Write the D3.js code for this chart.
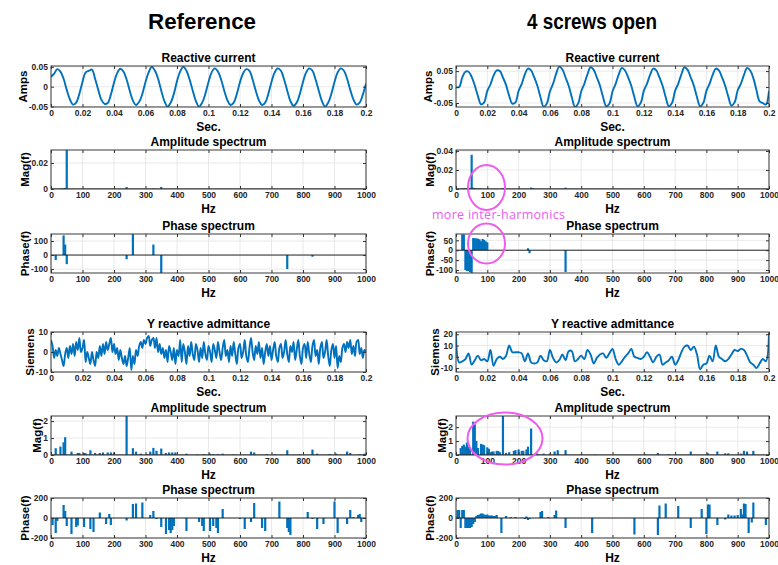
<!DOCTYPE html>
<html>
<head>
<meta charset="utf-8">
<script src="https://cdn.jsdelivr.net/npm/d3@7"></script>
<style>
body { margin: 0; background: #fff; }
svg text { font-family: "Liberation Sans", Arial, sans-serif; }
</style>
</head>
<body>
<svg id="fig" width="778" height="565"></svg>
<script>
// column headers
const headers = ["Reference", "4 screws open"];

const timeTicks = [0, 0.02, 0.04, 0.06, 0.08, 0.1, 0.12, 0.14, 0.16, 0.18, 0.2];
const hzTicks = [0, 100, 200, 300, 400, 500, 600, 700, 800, 900, 1000];

// reactive current, one sample every 2 ms
const refCurrent = [
  0.025, 0.033, 0.044, 0.038, 0.020, -0.008, -0.032, -0.045, -0.040, -0.018,
  0.012, 0.036, 0.040, 0.043, 0.020, -0.008, -0.033, -0.043, -0.041, -0.020,
  0.010, 0.034, 0.045, 0.038, 0.018, -0.010, -0.035, -0.046, -0.038, -0.018,
  0.012, 0.036, 0.050, 0.040, 0.020, -0.010, -0.036, -0.050, -0.040, -0.018,
  0.014, 0.038, 0.050, 0.040, 0.018, -0.010, -0.036, -0.050, -0.040, -0.018,
  0.012, 0.036, 0.046, 0.038, 0.018, -0.010, -0.034, -0.046, -0.040, -0.018,
  0.012, 0.034, 0.044, 0.040, 0.018, -0.010, -0.034, -0.046, -0.040, -0.018,
  0.012, 0.036, 0.046, 0.040, 0.018, -0.010, -0.036, -0.048, -0.040, -0.018,
  0.012, 0.036, 0.046, 0.040, 0.018, -0.010, -0.036, -0.050, -0.040, -0.018,
  0.012, 0.036, 0.046, 0.040, 0.020, -0.008, -0.032, -0.045, -0.040, -0.020,
  0.008
];
const openCurrent = [
  0.000, 0.000, 0.030, 0.048, 0.048, 0.032, 0.005, -0.028, -0.054, -0.048,
  -0.012, 0.008, 0.036, 0.052, 0.050, 0.030, 0.006, -0.028, -0.052, -0.048,
  -0.012, 0.010, 0.040, 0.058, 0.052, 0.030, 0.004, -0.032, -0.062, -0.052,
  -0.014, 0.010, 0.042, 0.064, 0.055, 0.030, 0.004, -0.032, -0.062, -0.052,
  -0.014, 0.010, 0.040, 0.062, 0.054, 0.030, 0.004, -0.032, -0.060, -0.052,
  -0.014, 0.010, 0.040, 0.060, 0.052, 0.030, 0.004, -0.032, -0.060, -0.050,
  -0.012, 0.010, 0.038, 0.058, 0.052, 0.030, 0.004, -0.032, -0.060, -0.050,
  -0.012, 0.010, 0.040, 0.062, 0.054, 0.030, 0.004, -0.032, -0.060, -0.050,
  -0.012, 0.010, 0.038, 0.058, 0.052, 0.030, 0.004, -0.030, -0.058, -0.048,
  -0.010, 0.010, 0.038, 0.060, 0.052, 0.028, -0.010, -0.045, -0.050, -0.055,
  -0.012
];

// Y reactive admittance: reference every 1 ms, screws open every 2 ms
const refAdmittance = [
  6, 3, -3, 1, -2, 2, -1, -4, -7, -1,
  2, -3, 3, -1, 4, -2, 5, 1, 7, 0,
  2, 6, -5, 0, -3, -6, 0, -4, -7, 0,
  -3, 3, -2, 4, -1, 5, 1, 4, 7, 0,
  4, -1, 2, -4, 1, -3, -6, -2, -7, -3,
  2, -9, -2, -6, 1, -2, 3, 5, 2, 6,
  4, 7, 8, 3, 6, 7, 2, 7, 0, 4,
  -1, 2, -3, 1, -5, 3, 0, -4, 2, -6,
  1, -2, 6, -5, 4, 0, -6, 3, -2, 5,
  -1, -4, 4, 1, -5, 2, -3, 5, -1, -4,
  3, 0, -5, 4, 1, -3, 5, 0, -4, 2,
  6, -2, 1, -5, 3, -2, 5, -1, -6, 2,
  4, -3, 0, 6, -2, -5, 2, 7, 0, -4,
  3, -1, 5, -3, 2, -6, 0, 4, -2, 3,
  -4, 1, 5, -2, -5, 2, 4, -3, 0, 6,
  -1, -5, 3, 0, 5, -4, 1, 6, -2, -6,
  2, 4, -3, 5, -1, -5, 3, 6, -2, 1,
  -6, 2, 5, -3, 0, 6, -2, -7, 1, 4,
  -3, 3, -8, -2, -5, 2, 4, 0, 5, 2,
  6, -1, 3, -2, 5, 6, -1, 2, -3, 1,
  0
];
const openAdmittance = [
  21, -5, -4, -2, 3, -7, -3, 1, -3, -2,
  -4, 6, -8, -2, 0, -2, 1, 10, 4, 4,
  4, 3, -4, 3, -5, -6, -5, 1, -3, -4,
  6, -1, -5, -3, 2, -3, 5, 5, -4, -2,
  1, -2, 6, 2, -6, -1, 2, 3, -1, 3,
  7, -2, -7, -4, 0, 3, 7, 0, -1, -2,
  0, 4, 0, -5, 0, 2, -7, -5, -3, 0,
  -7, -3, 4, 9, 10, 6, 9, 2, -11, -7,
  -6, 1, -4, 10, 0, -2, -4, -2, 2, 6,
  5, 7, 6, 1, -5, -7, -10, -6, -2, -4,
  21
];

// spectra as [Hz, value]
const refAmp1 = [[30, 0.0004], [40, 0.0005], [45, 0.0008], [50, 0.045], [240, 0.0015], [325, 0.0004], [350, 0.0016]];
const openAmp1 = [[20, 0.0005], [25, 0.0005], [30, 0.0006], [35, 0.0007], [40, 0.0008], [45, 0.001], [50, 0.036],
  [55, 0.0015], [60, 0.0008], [65, 0.0006], [75, 0.0006], [80, 0.0004], [100, 0.0005], [150, 0.001],
  [240, 0.0015], [245, 0.001], [350, 0.0015]];

const refPhase1 = [[15, -35], [40, 140], [45, 75], [50, -65], [240, -30], [260, 150], [325, 75], [350, -128], [750, -100], [830, -12]];
const openPhase1 = [[20, 80], [25, 80], [30, -100], [35, -105], [40, -105], [45, -110], [50, -115],
  [55, 62], [60, 60], [65, 60], [70, 58], [75, 55], [80, 45], [85, 57], [90, 52], [95, 45], [100, 40],
  [230, 10], [235, -15], [350, -110]];

const refAmp2 = [[15, 0.4], [30, 0.5], [40, 0.75], [45, 1.05], [65, 0.2], [85, 0.12], [90, 0.12], [105, 0.12],
  [110, 0.1], [125, 0.28], [140, 0.12], [155, 0.12], [165, 0.15], [180, 0.15], [190, 0.15], [200, 0.15],
  [240, 2.4], [260, 0.4], [270, 0.2], [285, 0.08], [305, 0.05], [315, 0.2], [325, 0.42], [335, 0.25],
  [350, 0.38], [365, 0.12], [375, 0.15], [385, 0.15], [395, 0.15], [430, 0.08], [465, 0.03], [485, 0.05],
  [505, 0.08], [515, 0.05], [530, 0.05], [545, 0.08], [580, 0.03], [635, 0.2], [645, 0.15], [685, 0.05],
  [710, 0.05], [750, 0.28], [790, 0.03], [830, 0.32], [845, 0.08], [885, 0.05], [905, 0.08], [940, 0.2],
  [950, 0.12], [980, 0.05], [995, 0.08]];
const openAmp2 = [[15, 0.5], [20, 0.65], [25, 0.75], [30, 0.6], [35, 0.9], [40, 0.6], [45, 0.55], [55, 2.4],
  [60, 2.2], [65, 1.0], [70, 0.5], [80, 0.8], [85, 0.75], [90, 0.7], [100, 0.55], [105, 0.45], [110, 0.2],
  [115, 0.25], [120, 0.25], [130, 0.3], [135, 0.28], [140, 0.2], [150, 3.0], [160, 0.15], [170, 0.2],
  [185, 0.3], [190, 0.35], [200, 0.4], [210, 0.3], [215, 0.3], [225, 0.4], [230, 0.6], [240, 1.9],
  [260, 0.1], [280, 0.1], [300, 0.1], [315, 0.25], [325, 0.35], [350, 0.35], [400, 0.03], [445, 0.03],
  [605, 0.03], [645, 0.15], [680, 0.05], [750, 0.25], [805, 0.12], [835, 0.25], [860, 0.12], [870, 0.12],
  [910, 0.1], [920, 0.3], [930, 0.25], [950, 0.3]];

const refPhase2 = [[5, -70], [15, -150], [20, -30], [40, 130], [45, 70], [50, -80], [65, -160], [80, -90],
  [85, -75], [105, -90], [125, -110], [135, -140], [155, 55], [175, -60], [185, 40], [190, -70], [240, -25],
  [260, 140], [270, 145], [290, 155], [315, 30], [325, 70], [335, -10], [350, -90], [365, -160], [375, -120],
  [380, -150], [385, -120], [390, -80], [430, -130], [470, -40], [480, -80], [485, -130], [505, -130],
  [515, -80], [525, -100], [530, -150], [545, 90], [600, -10], [615, -110], [635, -40], [645, 150],
  [670, -100], [680, -130], [725, 165], [750, -100], [755, -140], [760, -170], [815, 60], [830, -10],
  [845, -110], [865, -60], [900, 165], [910, -150], [940, -60], [950, 80], [960, 10], [975, 30], [980, 40],
  [985, -40]];
const openPhase2 = [[5, 80], [10, 80], [15, -100], [20, 80], [25, 80], [30, -100], [35, -100], [40, -100],
  [45, -100], [50, -90], [55, -60], [60, -40], [65, 20], [70, 30], [75, 35], [80, 45], [85, 45], [90, 35],
  [95, 30], [100, 35], [105, 25], [110, 25], [115, 25], [120, 20], [125, 20], [130, 30], [145, -150],
  [160, 20], [175, 10], [190, 10], [210, 5], [220, -10], [225, 15], [230, -20], [235, -10], [270, 60],
  [275, 70], [295, 10], [315, 30], [320, 75], [350, -100], [435, -150], [570, -165], [645, -170],
  [650, 125], [670, 145], [710, 120], [750, -100], [785, 90], [800, -160], [805, 135], [810, 135],
  [835, -70], [860, -15], [870, 35], [880, 25], [890, 25], [900, 30], [910, 90], [915, 35], [920, 145],
  [925, 140], [935, -150], [945, -45], [950, 155], [990, -70]];

const blue = "#0072BD";
const svg = d3.select("#fig");
svg.append("rect").attr("width", 778).attr("height", 565).attr("fill", "#fff");

const cols = [{left: 51, w: 315}, {left: 456, w: 313}];
const rows = [{top: 66, h: 41}, {top: 150, h: 39}, {top: 234, h: 39}, {top: 332, h: 40}, {top: 416, h: 39}, {top: 498, h: 40}];

const panels = [
  {col: 0, row: 0, title: "Reactive current", kind: "line", data: refCurrent, step: 0.002, y: [-0.051, 0.052], yTicks: [-0.05, 0, 0.05], ylabel: "Amps", xlabel: "Sec."},
  {col: 1, row: 0, title: "Reactive current", kind: "line", data: openCurrent, step: 0.002, y: [-0.0625, 0.066], yTicks: [-0.05, 0, 0.05], ylabel: "Amps", xlabel: "Sec."},
  {col: 0, row: 1, title: "Amplitude spectrum", kind: "bar", data: refAmp1, y: [0, 0.03], yTicks: [0, 0.02], ylabel: "Mag(f)", xlabel: "Hz"},
  {col: 1, row: 1, title: "Amplitude spectrum", kind: "bar", data: openAmp1, y: [0, 0.041], yTicks: [0, 0.02, 0.04], ylabel: "Mag(f)", xlabel: "Hz"},
  {col: 0, row: 2, title: "Phase spectrum", kind: "bar", data: refPhase1, y: [-128, 150], yTicks: [-100, 0, 100], ylabel: "Phase(f)", xlabel: "Hz"},
  {col: 1, row: 2, title: "Phase spectrum", kind: "bar", data: openPhase1, y: [-115, 82], yTicks: [-100, -50, 0, 50], ylabel: "Phase(f)", xlabel: "Hz"},
  {col: 0, row: 3, title: "Y reactive admittance", kind: "line", data: refAdmittance, step: 0.001, y: [-10, 10], yTicks: [-10, 0, 10], ylabel: "Siemens", xlabel: "Sec."},
  {col: 1, row: 3, title: "Y reactive admittance", kind: "line", data: openAdmittance, step: 0.002, y: [-13.5, 22], yTicks: [-10, 0, 10, 20], ylabel: "Siemens", xlabel: "Sec."},
  {col: 0, row: 4, title: "Amplitude spectrum", kind: "bar", data: refAmp2, y: [0, 2.3], yTicks: [0, 1, 2], ylabel: "Mag(f)", xlabel: "Hz"},
  {col: 1, row: 4, title: "Amplitude spectrum", kind: "bar", data: openAmp2, y: [0, 2.8], yTicks: [0, 1, 2], ylabel: "Mag(f)", xlabel: "Hz"},
  {col: 0, row: 5, title: "Phase spectrum", kind: "bar", data: refPhase2, y: [-200, 200], yTicks: [-200, 0, 200], ylabel: "Phase(f)", xlabel: "Hz"},
  {col: 1, row: 5, title: "Phase spectrum", kind: "bar", data: openPhase2, y: [-200, 200], yTicks: [-200, 0, 200], ylabel: "Phase(f)", xlabel: "Hz"}
];

// headers, sized to the slide's wider/narrower title font
const headerPos = [{x: 202, len: 108}, {x: 592, len: 130}];
svg.selectAll(".hdr")
  .data(headers)
  .enter().append("text")
  .attr("class", "hdr")
  .attr("x", (d, i) => headerPos[i].x - headerPos[i].len / 2)
  .attr("y", 29)
  .attr("textLength", (d, i) => headerPos[i].len)
  .attr("lengthAdjust", "spacingAndGlyphs")
  .style("font-size", "22px")
  .style("font-weight", "bold")
  .text(d => d);

panels.forEach((p, k) => drawPanel(p, k));

function drawPanel(p, k) {
  const c = cols[p.col], r = rows[p.row];
  const isTime = p.kind === "line";
  const x = d3.scaleLinear().domain(isTime ? [0, 0.2] : [0, 1000]).range([c.left, c.left + c.w]);
  const y = d3.scaleLinear().domain(p.y).range([r.top + r.h, r.top]);
  const xTicks = isTime ? timeTicks : hzTicks;
  const g = svg.append("g");

  // grid
  g.append("g").selectAll("line").data(xTicks).enter().append("line")
    .attr("x1", d => x(d)).attr("x2", d => x(d))
    .attr("y1", r.top).attr("y2", r.top + r.h)
    .attr("stroke", "#e3e3e3").attr("stroke-width", 0.8);
  g.append("g").selectAll("line").data(p.yTicks).enter().append("line")
    .attr("x1", c.left).attr("x2", c.left + c.w)
    .attr("y1", d => y(d)).attr("y2", d => y(d))
    .attr("stroke", "#e3e3e3").attr("stroke-width", 0.8);

  g.append("clipPath").attr("id", "clip" + k)
    .append("rect").attr("x", c.left).attr("y", r.top).attr("width", c.w).attr("height", r.h);
  const plot = g.append("g").attr("clip-path", "url(#clip" + k + ")");

  if (isTime) {
    const line = d3.line()
      .x((d, i) => x(i * p.step))
      .y(d => y(d))
      .curve(d3.curveCatmullRom.alpha(0.5));
    plot.append("path").datum(p.data)
      .attr("d", line)
      .attr("fill", "none")
      .attr("stroke", blue)
      .attr("stroke-width", 1.9)
      .attr("stroke-linejoin", "round");
  } else {
    const bw = 7;
    plot.selectAll("rect").data(p.data).enter().append("rect")
      .attr("x", d => x(d[0] - bw / 2))
      .attr("width", x(bw) - x(0))
      .attr("y", d => y(Math.max(0, d[1])))
      .attr("height", d => Math.abs(y(d[1]) - y(0)))
      .attr("fill", blue);
    plot.append("line")
      .attr("x1", c.left).attr("x2", c.left + c.w)
      .attr("y1", y(0)).attr("y2", y(0))
      .attr("stroke", "#111").attr("stroke-width", 0.9);
  }

  // axes, ticks pointing inward like MATLAB
  g.append("g")
    .attr("transform", "translate(0," + (r.top + r.h) + ")")
    .call(d3.axisBottom(x).tickValues(xTicks).tickSizeInner(-3).tickSizeOuter(0).tickPadding(3).tickFormat(d => String(d)));
  const yAxis = g.append("g")
    .attr("transform", "translate(" + c.left + ",0)")
    .call(d3.axisLeft(y).tickValues(p.yTicks).tickSizeInner(-3).tickSizeOuter(0).tickPadding(3).tickFormat(d => String(d)));
  g.append("g")
    .attr("transform", "translate(0," + r.top + ")")
    .call(d3.axisTop(x).tickValues(xTicks).tickSizeInner(-3).tickSizeOuter(0).tickFormat(""));
  g.append("g")
    .attr("transform", "translate(" + (c.left + c.w) + ",0)")
    .call(d3.axisRight(y).tickValues(p.yTicks).tickSizeInner(-3).tickSizeOuter(0).tickFormat(""));

  g.selectAll(".domain").remove();
  g.selectAll(".tick line").attr("stroke", "#333");
  g.selectAll(".tick text")
    .attr("fill", "#262626")
    .style("font-size", "8.5px")
    .style("font-weight", "bold");

  g.append("rect")
    .attr("x", c.left).attr("y", r.top).attr("width", c.w).attr("height", r.h)
    .attr("fill", "none").attr("stroke", "#3a3a3a").attr("stroke-width", 1);

  // title and labels
  g.append("text")
    .attr("x", c.left + c.w / 2).attr("y", r.top - 4.5)
    .attr("text-anchor", "middle")
    .style("font-size", "12px").style("font-weight", "bold")
    .text(p.title);
  g.append("text")
    .attr("x", c.left + c.w / 2).attr("y", r.top + r.h + 24)
    .attr("text-anchor", "middle")
    .style("font-size", "12px").style("font-weight", "bold")
    .text(p.xlabel);
  const bb = yAxis.node().getBBox();
  g.append("text")
    .attr("transform", "translate(" + (c.left + bb.x - 2) + "," + (r.top + r.h / 2) + ") rotate(-90)")
    .attr("text-anchor", "middle")
    .style("font-size", "11.5px").style("font-weight", "bold")
    .text(p.ylabel);
}

// magenta annotations
const pink = "#ee5cee";
const notes = svg.append("g");
notes.append("ellipse").attr("cx", 486.5).attr("cy", 187.5).attr("rx", 18.5).attr("ry", 22.5);
notes.append("ellipse").attr("cx", 486.5).attr("cy", 243.5).attr("rx", 18.5).attr("ry", 20);
notes.append("ellipse").attr("cx", 505).attr("cy", 438.5).attr("rx", 37.5).attr("ry", 26);
notes.selectAll("ellipse").attr("fill", "none").attr("stroke", pink).attr("stroke-width", 2);
notes.append("text")
  .attr("x", 432).attr("y", 219)
  .attr("textLength", 133)
  .style("font-family", "'Open Sans', sans-serif")
  .style("font-size", "12.5px")
  .attr("fill", pink)
  .text("more inter-harmonics");
</script>
</body>
</html>
